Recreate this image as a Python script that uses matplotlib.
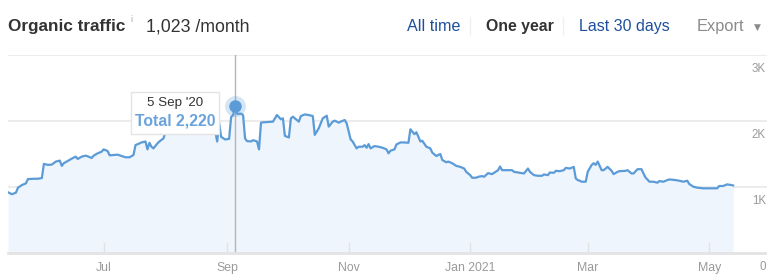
import matplotlib
matplotlib.use("Agg")
import matplotlib.pyplot as plt
import matplotlib.transforms as mtransforms
from matplotlib.patches import Rectangle
from matplotlib.lines import Line2D
import pandas as pd

plt.rcParams['font.family'] = ['Liberation Sans', 'DejaVu Sans']

# daily organic traffic, days counted from start_date
start_date = "2020-05-14"
day_offsets = [
    0, 2, 4, 5, 7, 9, 10, 13, 15, 17, 18, 20, 22, 24, 26, 27, 28, 30, 32, 34,
    35, 37, 39, 40, 42, 43, 45, 47, 48, 50, 51, 53, 55, 57, 59, 61, 63, 64, 66, 67,
    69, 70, 71, 72, 73, 75, 76, 78, 79, 80, 82, 85, 87, 90, 92, 95, 97, 100, 102, 104,
    105, 106, 107, 109, 111, 112, 113, 114, 115, 117, 118, 119, 120, 122, 123, 125, 126, 127, 128, 131,
    133, 135, 137, 138, 139, 141, 142, 143, 145, 146, 147, 149, 151, 153, 154, 156, 158, 160, 161, 163,
    164, 166, 167, 169, 170, 172, 173, 175, 176, 178, 179, 180, 181, 182, 184, 186, 188, 190, 191, 192,
    194, 195, 197, 199, 201, 202, 204, 205, 207, 208, 210, 212, 213, 215, 217, 218, 220, 221, 223, 225,
    227, 229, 230, 232, 233, 235, 236, 238, 239, 241, 243, 244, 246, 247, 248, 250, 253, 254, 257, 259,
    261, 262, 264, 266, 268, 269, 271, 272, 274, 275, 277, 279, 280, 282, 284, 285, 286, 287, 288, 290,
    291, 293, 294, 295, 296, 297, 298, 299, 300, 301, 303, 304, 306, 307, 310, 311, 313, 314, 316, 318,
    319, 320, 322, 324, 326, 327, 329, 331, 332, 335, 337, 339, 341, 342, 344, 346, 349, 351, 354, 356,
    357, 359, 361, 363, 364,
]
traffic = [
    920, 890, 915, 990, 1030, 1055, 1120, 1125, 1125, 1135, 1350, 1335, 1340, 1385, 1400, 1320, 1360, 1395, 1430, 1460,
    1425, 1460, 1475, 1465, 1440, 1475, 1510, 1535, 1570, 1545, 1480, 1485, 1490, 1470, 1450, 1450, 1485, 1635, 1660, 1675,
    1690, 1570, 1670, 1610, 1585, 1660, 1690, 1735, 1825, 1900, 1950, 1920, 1980, 2000, 1960, 2030, 2000, 1950, 1900, 1850,
    1690, 1970, 1760, 1720, 1730, 2060, 2090, 2220, 2110, 2110, 2090, 1735, 1695, 1690, 1710, 1690, 1570, 1975, 1980, 1985,
    1990, 2090, 2025, 2040, 1775, 1750, 2040, 2065, 2015, 1990, 2075, 2100, 2090, 2075, 1790, 1890, 2040, 2080, 1915, 1990,
    2005, 1975, 1990, 2015, 1965, 1720, 1690, 1585, 1610, 1610, 1635, 1595, 1650, 1585, 1620, 1610, 1595, 1570, 1510, 1550,
    1570, 1645, 1675, 1675, 1670, 1875, 1800, 1830, 1690, 1700, 1610, 1585, 1520, 1470, 1500, 1410, 1375, 1385, 1360, 1320,
    1305, 1280, 1230, 1180, 1140, 1140, 1155, 1165, 1155, 1210, 1195, 1215, 1255, 1310, 1255, 1255, 1255, 1230, 1215, 1205,
    1280, 1230, 1180, 1170, 1170, 1190, 1180, 1220, 1215, 1245, 1240, 1255, 1290, 1280, 1305, 1130, 1105, 1095, 1080, 1080,
    1230, 1335, 1360, 1335, 1385, 1320, 1255, 1255, 1280, 1305, 1245, 1195, 1230, 1240, 1245, 1255, 1205, 1205, 1270, 1270,
    1205, 1145, 1080, 1080, 1065, 1090, 1080, 1105, 1115, 1105, 1095, 1080, 1095, 1045, 1005, 990, 980, 980, 980, 980,
    1015, 1015, 1040, 1030, 1023,
]

tick_dates = ["2020-07-01", "2020-09-01", "2020-11-01", "2021-01-01", "2021-03-01", "2021-05-01"]
tick_labels = ["Jul", "Sep", "Nov", "Jan 2021", "Mar", "May"]
y_ticks = [0, 1000, 2000, 3000]
y_tick_labels = ["0", "1K", "2K", "3K"]

hover_date = "2020-09-05"
hover_value = 2220

line_color = "#5b9bd8"
W, H = 767, 279

dates = pd.Timestamp(start_date) + pd.to_timedelta(day_offsets, unit="D")

fig = plt.figure(figsize=(W / 100, H / 100), dpi=100)
ax = fig.add_axes([8 / W, 26 / H, 759 / W, 198 / H])

ax.fill_between(dates, traffic, 0, color="#eef5fc", lw=0, zorder=1)
ax.plot(dates, traffic, color=line_color, lw=1.6, zorder=3)

ax.set_xlim(pd.Timestamp(start_date), pd.Timestamp(start_date) + pd.Timedelta(days=381))
ax.set_ylim(0, 3000)

# grid lines and right-hand labels (sit just under each line)
for v, lab in zip(y_ticks, y_tick_labels):
    if v > 0:
        ax.axhline(v, color="#ececec", lw=1.5, zorder=0)
    tr = mtransforms.offset_copy(
        mtransforms.blended_transform_factory(ax.transAxes, ax.transData),
        fig=fig, x=0, y=-14, units="dots")
    ax.text(0.9987, v, lab, transform=tr, ha="right", va="center",
            fontsize=8.3, color="#9a9a9a", clip_on=False)

ax.set_yticks([])
ax.set_xticks(pd.to_datetime(tick_dates))
ax.set_xticklabels(tick_labels)
ax.tick_params(axis="x", direction="in", length=8, width=1, color="#e2e2e2",
               labelsize=8.8, labelcolor="#9a9a9a", pad=6.5)
for s in ["top", "left", "right"]:
    ax.spines[s].set_visible(False)
ax.spines["bottom"].set_color("#e3e3e3")
ax.spines["bottom"].set_linewidth(2)

# hover crosshair, point and tooltip
hd = pd.Timestamp(hover_date)
ax.axvline(hd, color="#b5b5b5", lw=1, zorder=2)
ax.plot([hd], [hover_value], "o", ms=15, color=line_color, alpha=0.25, mec="none", zorder=4)
ax.plot([hd], [hover_value], "o", ms=9, color=line_color, mec="none", zorder=5)

fig.add_artist(Rectangle((131 / W, 1 - 134 / H), 88 / W, 42 / H, transform=fig.transFigure,
                         facecolor="white", edgecolor="#e4e4e4", lw=1, zorder=6))
fig.text(175 / W, 1 - 103 / H, "5 Sep '20", ha="center", va="center",
         fontsize=9.6, color="#333333", zorder=7)
fig.text(175 / W, 1 - 120.5 / H, "Total 2,220", ha="center", va="center",
         fontsize=11.3, fontweight="bold", color="#6aa3dc", zorder=7)

# header
base = 1 - 31 / H
fig.text(8 / W, base, "Organic traffic", ha="left", va="baseline",
         fontsize=12.3, fontweight="bold", color="#333333")
fig.text(130 / W, 1 - 22 / H, "i", ha="left", va="baseline", fontsize=6.5, color="#aaaaaa")
fig.text(146 / W, base, "1,023 /month", ha="left", va="baseline", fontsize=12.8, color="#333333")

fig.text(407 / W, base, "All time", ha="left", va="baseline", fontsize=11.6, color="#1d4f9c")
fig.text(486 / W, base, "One year", ha="left", va="baseline", fontsize=11.4,
         fontweight="bold", color="#333333")
fig.text(579 / W, base, "Last 30 days", ha="left", va="baseline", fontsize=11.5, color="#1d4f9c")
fig.text(697 / W, base, "Export", ha="left", va="baseline", fontsize=11.8, color="#8a8a8a")
fig.text(757 / W, 1 - 27 / H, "\u25bc", ha="center", va="center", fontsize=6.5,
         color="#8a8a8a", family="DejaVu Sans")

for sx in [470, 563]:
    fig.add_artist(Line2D([sx / W, sx / W], [1 - 17 / H, 1 - 35 / H],
                          transform=fig.transFigure, color="#f0f0f0", lw=1))

fig.savefig("out.png", dpi=100, facecolor="white")
